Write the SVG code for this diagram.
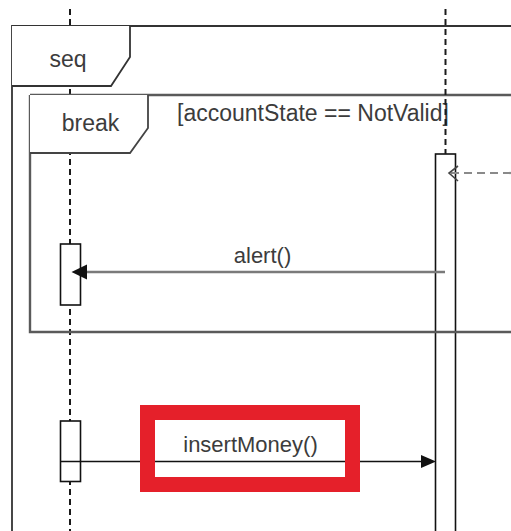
<svg xmlns="http://www.w3.org/2000/svg" width="511" height="531" viewBox="0 0 511 531">
<style>
.lbl{font-family:"Liberation Sans",Arial,sans-serif;fill:#3c3c3c}
.life{stroke:#1a1a1a;stroke-width:2;stroke-dasharray:6 4;fill:none}
.act{fill:#fff;stroke:#111;stroke-width:1.6}
.tab{fill:#fff}
</style>
<rect width="511" height="531" fill="#fff"/>
<g id="seq-frame">
<path d="M12,531 V26 H511" fill="none" stroke="#333" stroke-width="1.8"/>
</g>
<g id="lifeline-left">
<line class="life" x1="70" y1="9" x2="70" y2="531"/>
</g>
<g id="activation-right">
<rect class="act" x="435.5" y="154" width="20" height="390"/>
</g>
<g id="activation-alert">
<rect class="act" x="60.5" y="244" width="20" height="61"/>
</g>
<g id="activation-insert">
<rect class="act" x="60.5" y="421" width="20" height="60.5"/>
</g>
<g id="break-frame">
<path d="M30,95 H511 M30,95 V332 H511" fill="none" stroke="#5a5a5a" stroke-width="2.4"/>
<path class="tab" d="M30,95 H148 V128 L130,153 H30 Z" stroke="none"/>
<path d="M148,95 V128 L130,153 H30" fill="none" stroke="#444" stroke-width="1.8"/>
<text class="lbl" x="90.5" y="131" font-size="23" text-anchor="middle">break</text>
<text class="lbl" x="177" y="121" font-size="23">[accountState == NotValid]</text>
</g>
<g id="seq-tab">
<path class="tab" d="M12,26 H130 V57 L111,86 H12 Z" stroke="none"/>
<path d="M130,26 V57 L111,86 H12" fill="none" stroke="#333" stroke-width="1.8"/>
<text class="lbl" x="68" y="67" font-size="23" text-anchor="middle">seq</text>
</g>
<g id="lifeline-right">
<line class="life" x1="445.5" y1="9" x2="445.5" y2="154"/>
</g>
<g id="connectors">
<g id="return-msg">
<line x1="511" y1="173" x2="450" y2="173" stroke="#8a8a8a" stroke-width="2.2" stroke-dasharray="8 5"/>
<path d="M458,166 L449,173 L458,181" fill="none" stroke="#444" stroke-width="1.6"/>
</g>
<g id="alert-msg">
<line x1="445" y1="272" x2="86" y2="272" stroke="#7a7a7a" stroke-width="2.6"/>
<path d="M71.5,272 L87,264.5 L87,279.5 Z" fill="#111"/>
<text class="lbl" x="262.5" y="263" font-size="22" text-anchor="middle">alert()</text>
</g>
<g id="insert-msg">
<line x1="61" y1="461.5" x2="422" y2="461.5" stroke="#111" stroke-width="1.5"/>
<path d="M436,461.5 L421,455 L421,468 Z" fill="#111"/>
<text class="lbl" x="250.5" y="452" font-size="22" text-anchor="middle">insertMoney()</text>
</g>
</g>
<g id="highlight">
<rect x="147.5" y="412.5" width="205" height="72" fill="none" stroke="#e5202a" stroke-width="15"/>
</g>
</svg>
